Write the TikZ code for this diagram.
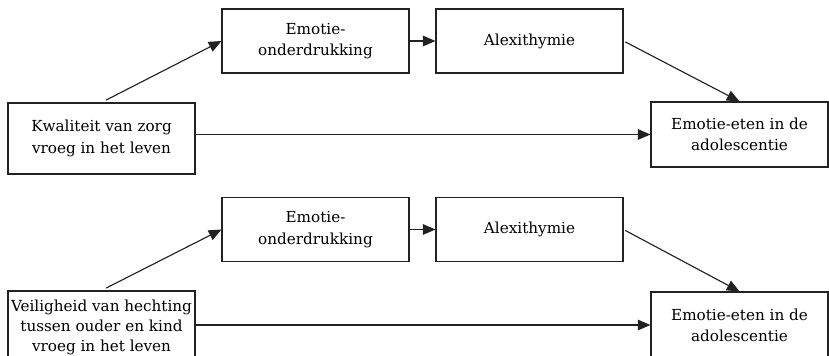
\documentclass[tikz,border=0pt]{standalone}
\usepackage{fontspec}
\setmainfont{DejaVu Serif}
\usetikzlibrary{arrows.meta}
\definecolor{ink}{HTML}{222222}
\begin{document}
\begin{tikzpicture}[x=0.75pt,y=-0.75pt,
  box/.style={draw=ink, line width=0.85pt, rectangle, inner sep=0pt,
    align=center, text=black, minimum width=140.25pt,
    font=\fontsize{11.4}{16}\selectfont},
  arr/.style={draw=ink, line width=0.85pt, -{Triangle[length=9.5pt,width=8pt]}}]
\useasboundingbox (0,0) rectangle (829,355);
\clip (0,0) rectangle (829,355);
\fill[white] (0,0) rectangle (829,355);

% upper model: quality of care
\node[box, minimum height=53.25pt] (A) at (101.5,138.5) {Kwaliteit van zorg\\vroeg in het leven};
\node[box, minimum height=48pt] (B) at (315.5,41) {Emotie-\\onderdrukking};
\node[box, minimum height=48pt] (C) at (529.5,41) {Alexithymie};
\node[box, minimum height=48.75pt, minimum width=132.75pt] (D) at (739.5,134.5) {Emotie-eten in de\\adolescentie};

\draw[arr, shorten <=4pt] (A.north) -- (B.west);
\draw[arr] (B.east) -- (C.west);
\draw[arr, shorten <=1.5pt] (C.east) -- (D.north);
\draw[arr] (A.east |- D.west) -- (D.west);

% lower model: attachment security
\node[box, minimum height=54pt, font=\fontsize{11.4}{15}\selectfont] (A2) at (101.5,327) {Veiligheid van hechting\\tussen ouder en kind\\vroeg in het leven};
\node[box, minimum height=48pt] (B2) at (315.5,229.5) {Emotie-\\onderdrukking};
\node[box, minimum height=48pt] (C2) at (529.5,229.5) {Alexithymie};
\node[box, minimum height=49.5pt, minimum width=132.75pt] (D2) at (739.5,325) {Emotie-eten in de\\adolescentie};

\draw[arr, shorten <=4pt] (A2.north) -- (B2.west);
\draw[arr] (B2.east) -- (C2.west);
\draw[arr, shorten <=1.5pt] (C2.east) -- (D2.north);
\draw[arr] (A2.east |- D2.west) -- (D2.west);
\end{tikzpicture}
\end{document}
